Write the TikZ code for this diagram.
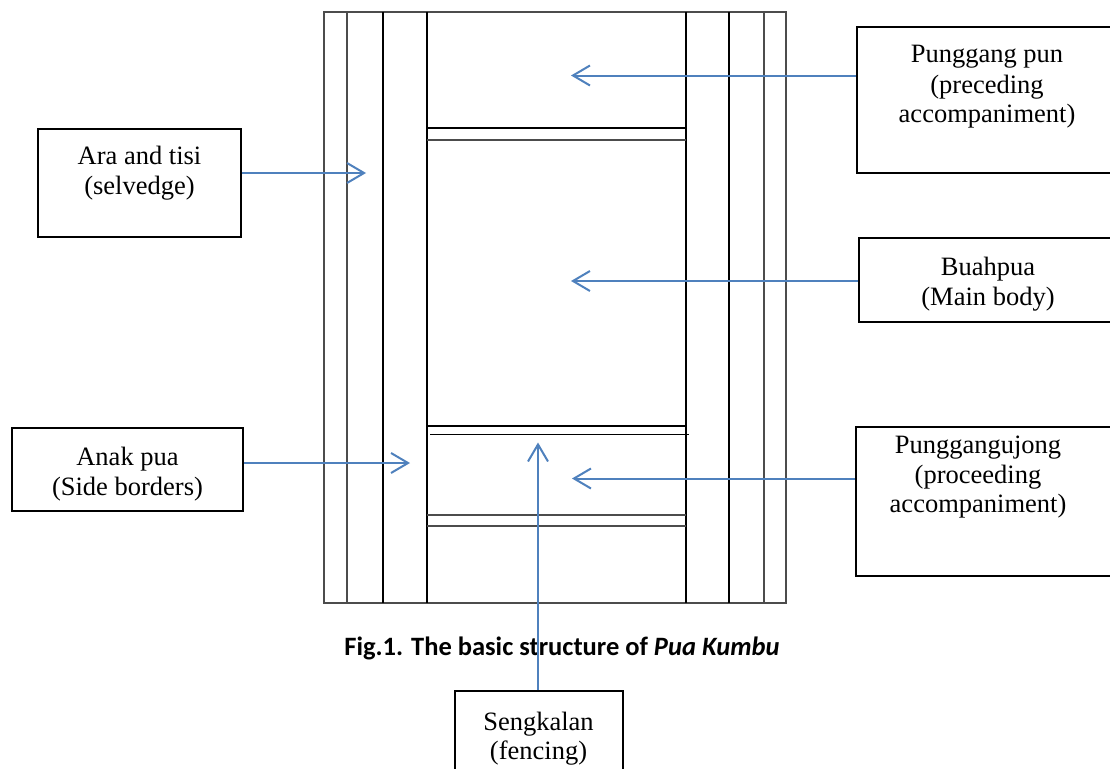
\documentclass[tikz,border=0pt]{standalone}
\usepackage{fontspec}
\setmainfont{Liberation Serif}
\newfontfamily\capfont{Carlito}
\usetikzlibrary{arrows.meta}
\definecolor{arrblue}{RGB}{79,129,189}
\tikzset{
  box/.style={draw=black, line width=1.6pt, inner sep=0pt, fill=none},
  lbl/.style={inner sep=0pt, anchor=base, font=\fontsize{26.5}{30}\selectfont},
  arr/.style={draw=arrblue, line width=2pt, -{Straight Barb[length=17pt,width=20pt,line width=2pt]}},
  frame/.style={line width=1.3pt, draw=black},
  framegray/.style={line width=1.3pt, draw=black!70},
}
\begin{document}
\begin{tikzpicture}[x=1pt,y=-1pt]
\useasboundingbox (0,0) rectangle (1110,768);
\clip (0,0) rectangle (1110,768);
\fill[white] (0,0) rectangle (1110,768);
% textile structure
\draw[framegray] (324,12) rectangle (786,603);
\draw[framegray] (347,12) -- (347,603);
\draw[frame] (383,12) -- (383,603);
\draw[frame] (427,12) -- (427,603);
\draw[frame] (686,12) -- (686,603);
\draw[frame] (729,12) -- (729,603);
\draw[framegray] (764,12) -- (764,603);
\draw[frame] (427,128) -- (686,128);
\draw[framegray] (427,140) -- (686,140);
\draw[frame] (427,426) -- (686,426);
\draw[frame] (430,434.5) -- (689,434.5);
\draw[framegray] (427,515) -- (686,515);
\draw[framegray] (427,526) -- (686,526);
% boxes
\node[box, minimum width=203pt, minimum height=108pt] (ara) at (139.5,183) {};
\node[box, minimum width=231pt, minimum height=83pt] (anak) at (127.5,469.5) {};
\node[box, minimum width=258pt, minimum height=146pt] (pun) at (986,100) {};
\node[box, minimum width=256pt, minimum height=84pt] (buah) at (987,280) {};
\node[box, minimum width=259pt, minimum height=149pt] (ujong) at (985.5,501.5) {};
\node[box, minimum width=168pt, minimum height=99pt] (seng) at (539,740.5) {};
% labels
\node[lbl] (ara1) at (139.5,164) {Ara and tisi};
\node[lbl] (ara2) at (139.5,194) {(selvedge)};
\node[lbl] (anak1) at (127.5,465) {Anak pua};
\node[lbl] (anak2) at (127.5,495) {(Side borders)};
\node[lbl] (pun1) at (987,63) {Punggang pun};
\node[lbl] (pun2) at (987,93) {(preceding};
\node[lbl] (pun3) at (987,122.5) {accompaniment)};
\node[lbl] (buah1) at (988,275) {Buahpua};
\node[lbl] (buah2) at (988,305) {(Main body)};
\node[lbl] (ujong1) at (978,453) {Punggangujong};
\node[lbl] (ujong2) at (978,483) {(proceeding};
\node[lbl] (ujong3) at (978,512) {accompaniment)};
\node[lbl] (seng1) at (538.5,730) {Sengkalan};
\node[lbl] (seng2) at (538.5,759) {(fencing)};
% caption
\node[inner sep=0pt, anchor=base, font=\capfont\bfseries\fontsize{26.5}{30}\selectfont] (cap) at (562,655) {Fig.1. The basic structure of \textit{Pua Kumbu}};
% arrow tips
\coordinate (tpun) at (571,75.5);
\coordinate (tara) at (366,173);
\coordinate (tbuah) at (571,281);
\coordinate (tanak) at (410,463);
\coordinate (tujong) at (572,478.5);
\coordinate (tseng) at (538,442.5);
% arrows
\draw[arr] (pun.west |- tpun) -- (tpun);
\draw[arr] (ara.east |- tara) -- (tara);
\draw[arr] (buah.west |- tbuah) -- (tbuah);
\draw[arr] (anak.east |- tanak) -- (tanak);
\draw[arr] (ujong.west |- tujong) -- (tujong);
\draw[arr] (seng.north -| tseng) -- (tseng);
\end{tikzpicture}
\end{document}
